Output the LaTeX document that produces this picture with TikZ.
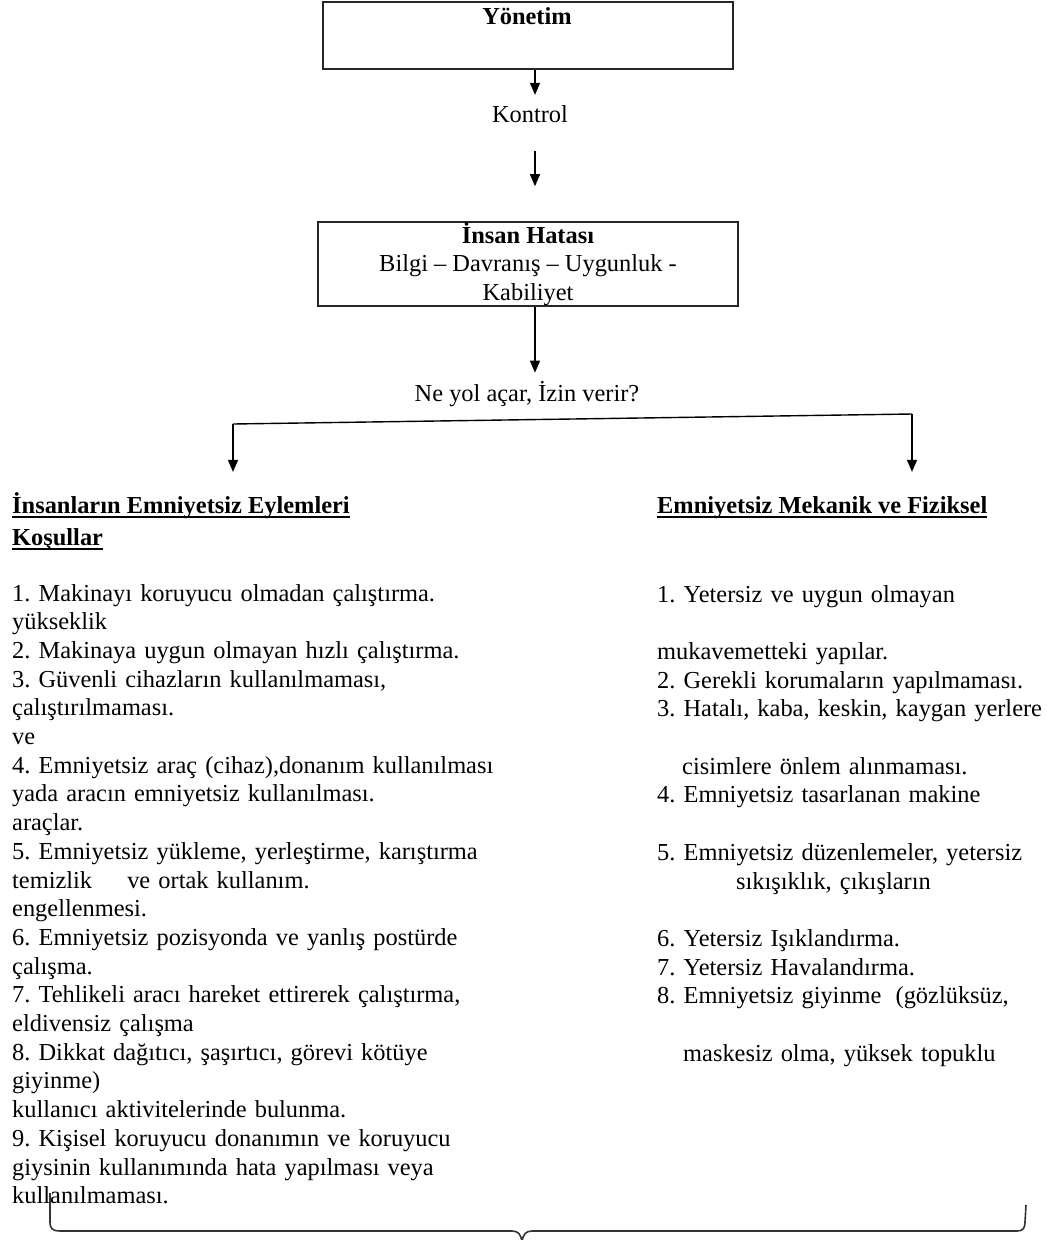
\documentclass[tikz,border=0pt]{standalone}
\usepackage{fontspec}
\setmainfont{Liberation Serif}
\usetikzlibrary{arrows.meta}
\frenchspacing
\hyphenpenalty=10000
\exhyphenpenalty=10000
\begin{document}
\begin{tikzpicture}[x=1pt,y=-1pt,
  every node/.style={font=\fontsize{24.4}{28.7}\selectfont, inner sep=0pt},
  frame/.style={draw=black!85, line width=1.6pt},
  arr/.style={line width=1.4pt, -{Triangle[width=10pt,length=12pt]}},
  conn/.style={line width=1.4pt},
  hd/.style={font=\fontsize{24.4}{28.7}\selectfont\bfseries, anchor=base west},
  uline/.style={line width=1.6pt},
  listbox/.style={anchor=base west, align=left, text width=560pt},
  bracepath/.style={line width=1.6pt, draw=black!80, line join=round},
]
\useasboundingbox (0,0) rectangle (1047,1240);

% top boxes and labels
\node[frame, minimum width=410pt, minimum height=67pt] (yon) at (528,35.5) {};
\node[font=\fontsize{24.4}{28.7}\selectfont\bfseries, anchor=base] (yont) at (527,24) {Yönetim};
\node[anchor=base] (kon) at (530,122) {Kontrol};
\node[frame, minimum width=420pt, minimum height=84pt, align=center] (ins) at (528,264)
  {\textbf{İnsan Hatası}\\Bilgi – Davranış – Uygunluk -\\Kabiliyet};
\node[anchor=base] (ne) at (527,401) {Ne yol açar, İzin verir?};

% vertical flow
\coordinate (ax) at (535,0);
\draw[arr, shorten >=10pt] (yon.south -| ax) -- (kon.north -| ax);
\draw[arr, shorten <=29pt, shorten >=35pt] (kon.south -| ax) -- (ins.north -| ax);
\draw[arr, shorten >=8pt] (ins.south -| ax) -- (ne.north -| ax);

% column headings
\node[hd] (lh1) at (12,513) {İnsanların Emniyetsiz Eylemleri};
\node[hd] (lh2) at (12,545) {Koşullar};
\node[hd] (rh) at (657,513) {Emniyetsiz Mekanik ve Fiziksel};
\foreach \h in {lh1,lh2,rh}
  \draw[uline] ([yshift=-4pt]\h.base west) -- ([yshift=-4pt]\h.base east);

% branching line
\coordinate (bl) at (233,424);
\coordinate (br) at (912,414);
\draw[conn] (bl) -- (br);
\draw[arr, shorten >=20pt] (bl) -- (bl |- lh1.north);
\draw[arr, shorten >=24pt] (br) -- (br |- rh.north);

% left list
\node[listbox] (ll) at (12,601) {1. Makinayı koruyucu olmadan çalıştırma.\\
yükseklik\\
2. Makinaya uygun olmayan hızlı çalıştırma.\\
3. Güvenli cihazların kullanılmaması,\\
çalıştırılmaması.\\
ve\\
4. Emniyetsiz araç (cihaz),donanım kullanılması\\
yada aracın emniyetsiz kullanılması.\\
araçlar.\\
5. Emniyetsiz yükleme, yerleştirme, karıştırma\\
temizlik\hspace{27pt} ve ortak kullanım.\\
engellenmesi.\\
6. Emniyetsiz pozisyonda ve yanlış postürde\\
çalışma.\\
7. Tehlikeli aracı hareket ettirerek çalıştırma,\\
eldivensiz çalışma\\
8. Dikkat dağıtıcı, şaşırtıcı, görevi kötüye\\
giyinme)\\
kullanıcı aktivitelerinde bulunma.\\
9. Kişisel koruyucu donanımın ve koruyucu\\
giysinin kullanımında hata yapılması veya\\
kullanılmaması.};

% right list
\node[listbox, text width=450pt] (rl) at (657,602) {1. Yetersiz ve uygun olmayan\\[28.7pt]
mukavemetteki yapılar.\\
2. Gerekli korumaların yapılmaması.\\
3. Hatalı, kaba, keskin, kaygan yerlere\\[28.7pt]
\hspace*{25pt}cisimlere önlem alınmaması.\\
4. Emniyetsiz tasarlanan makine\\[28.7pt]
5. Emniyetsiz düzenlemeler, yetersiz\\
\hspace*{79pt}sıkışıklık, çıkışların\\[28.7pt]
6. Yetersiz Işıklandırma.\\
7. Yetersiz Havalandırma.\\
8. Emniyetsiz giyinme\hspace{6pt} (gözlüksüz,\\[28.7pt]
\hspace*{26pt}maskesiz olma, yüksek topuklu};

% closing brace under both lists
\draw[bracepath] (50,1193) -- (50,1222)
  .. controls (50,1229) and (53,1231) .. (60,1231)
  -- (512,1231)
  .. controls (518,1231) and (521,1234) .. (522,1242)
  .. controls (523,1234) and (526,1231) .. (532,1231)
  -- (1017,1231)
  .. controls (1023,1231) and (1025,1228) .. (1025,1222)
  -- (1026,1205);
\end{tikzpicture}
\end{document}
